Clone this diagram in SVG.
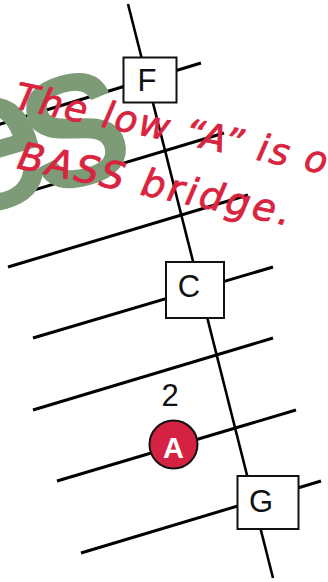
<svg xmlns="http://www.w3.org/2000/svg" width="328" height="582" viewBox="0 0 328 582">
<style>
.str{stroke:#000;stroke-width:3;stroke-linecap:butt;fill:none}
.neck{stroke:#000;stroke-width:2.6;fill:none}
.box{fill:#fff;stroke:#111;stroke-width:2}
.lbl{font-family:"Liberation Sans",Arial,sans-serif;font-size:31px;fill:#111;text-anchor:middle}
.note{font-family:"Comic Sans MS","DejaVu Sans",sans-serif;font-style:italic;fill:#d9243f;stroke:#d9243f;stroke-width:0.8;stroke-linejoin:round}
</style>
<rect width="328" height="582" fill="#fff"/>
<g id="connectors">
<line class="str" x1="-39" y1="136" x2="201" y2="63"/>
<line class="str" x1="-16" y1="205" x2="224" y2="133"/>
<line class="str" x1="8" y1="267" x2="248" y2="195"/>
<line class="str" x1="33" y1="338" x2="273" y2="267"/>
<line class="str" x1="33" y1="410" x2="273" y2="338"/>
<line class="str" x1="57" y1="481" x2="296" y2="410"/>
<line class="str" x1="81" y1="553" x2="321" y2="481"/>
<line class="neck" x1="128" y1="4" x2="273" y2="578"/>
</g>
<g id="node-F">
<rect class="box" x="123.5" y="57.5" width="53" height="45"/>
<text class="lbl" x="147" y="91">F</text>
</g>
<g id="node-C">
<rect class="box" x="166" y="262" width="58" height="56"/>
<text class="lbl" x="189" y="297">C</text>
</g>
<g id="node-G">
<rect class="box" x="237.5" y="476" width="61" height="53"/>
<text class="lbl" x="261" y="512">G</text>
</g>
<g id="label-2">
<text class="lbl" x="170" y="406">2</text>
</g>
<g id="node-A">
<circle cx="173.5" cy="444.5" r="24" fill="#d62242" stroke="#111" stroke-width="2"/>
<text x="173.5" y="458" text-anchor="middle" font-family="Liberation Sans,Arial,sans-serif" font-weight="bold" font-size="29" fill="#fff">A</text>
</g>
<g id="watermark">
<text x="-68" y="183" transform="rotate(-16 75 131)" font-family="Liberation Sans,Arial,sans-serif" font-size="200" letter-spacing="-18" fill="#7d9b76" stroke="#7d9b76" stroke-width="4" stroke-linejoin="round">es</text>
</g>
<g id="annotation">
<text class="note" x="13" y="108" font-size="37" letter-spacing="2.2" transform="rotate(12 13 108)">The low “A” is o</text>
<text class="note" x="16" y="168" font-size="38" letter-spacing="3" transform="rotate(12 16 168)">BASS bridge.</text>
</g>
</svg>
